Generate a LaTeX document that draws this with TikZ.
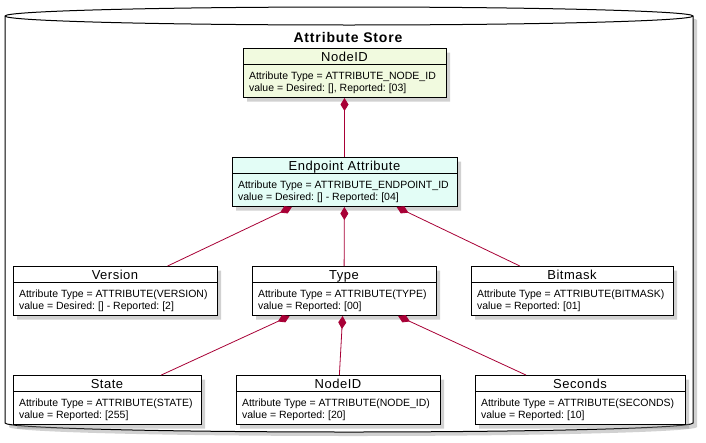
\documentclass[tikz,border=0pt]{standalone}
\usepackage{fontspec}
\setmainfont{Liberation Sans}
\usetikzlibrary{shapes.multipart,arrows.meta,shadows}
\definecolor{linkred}{HTML}{A80036}
\definecolor{nidgreen}{HTML}{F1FADF}
\definecolor{epcyan}{HTML}{E3FDF6}
\frenchspacing
% struts for the two parts of an attribute box
\newcommand{\hd}[1]{\fontsize{13}{15}\selectfont\addfontfeature{LetterSpace=4}%
  \rule[-2pt]{0pt}{13pt}\smash{#1}}
\newcommand{\bs}{\rule{0pt}{13.8pt}}
\newcommand{\be}{\rule[-4.2pt]{0pt}{4.2pt}}
\begin{document}
\begin{tikzpicture}
  [x=1pt,y=-1pt,
    shade/.style={drop shadow={shadow xshift=4pt,shadow yshift=-4pt,
      opacity=.4,fill=black!45}},
    attr/.style={rectangle split,rectangle split parts=2,
      rectangle split part align={center,left},
      draw,line width=1pt,fill=white,anchor=north,
      align=left,inner xsep=6pt,inner ysep=1pt,
      font=\fontsize{10.5}{12}\selectfont,shade},
    comp/.style={draw=linkred,line width=.8pt,
      {Diamond[length=13pt,width=8pt,fill=linkred]}-},
    store/.style={draw,line width=1pt,fill=white,shade},
]
  \useasboundingbox (0,0) rectangle (706,442);

  % the store
  \draw[store] (5,16) -- (5,423)
    arc[start angle=180,end angle=360,x radius=344pt,y radius=9pt]
    -- (693,16)
    arc[start angle=0,end angle=180,x radius=344pt,y radius=9pt] -- cycle;
  \draw[line width=1pt] (5,16)
    arc[start angle=180,end angle=360,x radius=344pt,y radius=9pt];
  \node[font=\bfseries\fontsize{14}{16}\selectfont\addfontfeature{LetterSpace=6}]
    (title) at (348,37) {Attribute Store};

  \node[attr,fill=nidgreen,minimum width=203pt] (nid) at (344.5,48)
    {\hd{NodeID}
     \nodepart{two}\bs Attribute Type = ATTRIBUTE\_NODE\_ID\\
     value = Desired: [], Reported: [03]\be};

  \node[attr,fill=epcyan,minimum width=225pt] (ep) at (344.5,157)
    {\hd{Endpoint Attribute}
     \nodepart{two}\bs Attribute Type = ATTRIBUTE\_ENDPOINT\_ID\\
     value = Desired: [] - Reported: [04]\be};

  \node[attr,minimum width=204pt] (ver) at (115,266)
    {\hd{Version}
     \nodepart{two}\bs Attribute Type = ATTRIBUTE(VERSION)\\
     value = Desired: [] - Reported: [2]\be};
  \node[attr,minimum width=184pt] (typ) at (344,266)
    {\hd{Type}
     \nodepart{two}\bs Attribute Type = ATTRIBUTE(TYPE)\\
     value = Reported: [00]\be};
  \node[attr,minimum width=202pt] (bit) at (572,266)
    {\hd{Bitmask}
     \nodepart{two}\bs Attribute Type = ATTRIBUTE(BITMASK)\\
     value = Reported: [01]\be};

  \node[attr,minimum width=188pt] (sta) at (107,375)
    {\hd{State}
     \nodepart{two}\bs Attribute Type = ATTRIBUTE(STATE)\\
     value = Reported: [255]\be};
  \node[attr,minimum width=204pt] (nid2) at (338,375)
    {\hd{NodeID}
     \nodepart{two}\bs Attribute Type = ATTRIBUTE(NODE\_ID)\\
     value = Reported: [20]\be};
  \node[attr,minimum width=210pt] (sec) at (580,375)
    {\hd{Seconds}
     \nodepart{two}\bs Attribute Type = ATTRIBUTE(SECONDS)\\
     value = Reported: [10]\be};

  \draw[comp] (nid) -- (ep);
  \draw[comp] (ep) -- (ver);
  \draw[comp] (ep) -- (typ);
  \draw[comp] (ep) -- (bit);
  \draw[comp] (typ) -- (sta);
  \draw[comp] (typ) -- (nid2);
  \draw[comp] (typ) -- (sec);

\end{tikzpicture}
\end{document}
